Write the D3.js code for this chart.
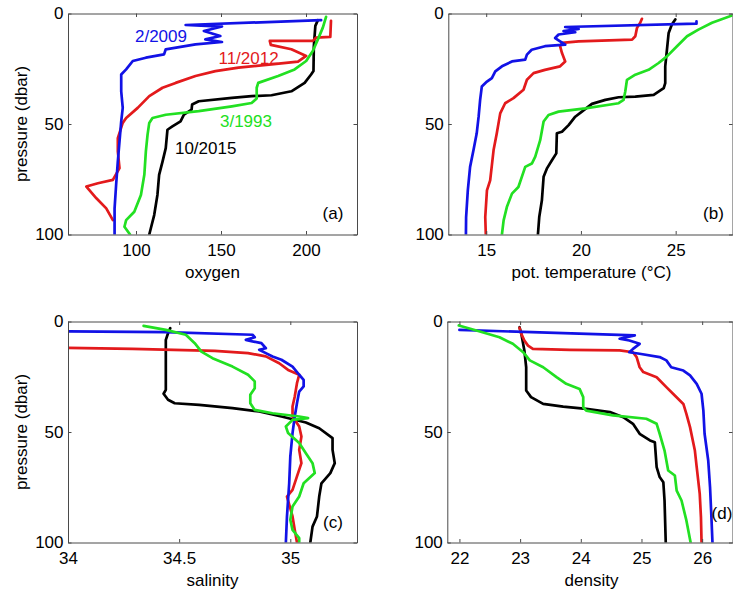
<!DOCTYPE html>
<html>
<head>
<meta charset="utf-8">
<script src="https://cdn.jsdelivr.net/npm/d3@7"></script>
<style>
  html, body { margin: 0; padding: 0; background: #ffffff; }
  svg { display: block; }
</style>
</head>
<body>
<svg id="chart" width="733" height="592"></svg>
<script>
// ---------------- DATA (value, pressure) ----------------
const seriesNames = ["2/2009", "11/2012", "3/1993", "10/2015"];
const seriesColors = ["#1212e6", "#e31a1c", "#22e022", "#000000"];
const pressureTicks = [0, 50, 100];

// (a) oxygen
const oxygen2009 = [[208.9,3.0],[129.2,5.2],[150.6,5.9],[139.9,7.9],[149.6,10.2],[140.8,11.7],[150.6,12.9],[135,14.0],[117.5,16.2],[116.5,18.5],[105.8,20],[98.1,21.5],[94.2,25.3],[91.3,27.6],[91.3,35.2],[92.2,42.7],[91.3,48.8],[90.3,57.9],[89.3,67],[88.3,77.6],[87.4,88.2],[87.4,100]];
const oxygen2012 = [[214.7,3.3],[214.3,10.6],[206,10.9],[204,12.4],[178.7,12.4],[179.3,14.2],[191.4,16.2],[200.1,19.2],[195.3,21.8],[179.7,23],[160.3,24.5],[146.7,26.1],[135,28.3],[123.3,31.4],[115.6,33.6],[107.8,37.4],[101,42.7],[94.2,47.3],[92.2,49.5],[89.3,56.4],[89.3,62.4],[90.3,70],[86.4,75.3],[77.6,76.8],[70.8,78.3],[76.7,83.6],[82.5,88.2],[86.4,93.5]];
const oxygen1993 = [[211.8,1.5],[209.9,6.4],[207,11.7],[204,17],[200.1,21.5],[193.3,25.3],[183.6,28.3],[171.9,31.4],[171,33.6],[171,38.5],[168,40.5],[156.4,42],[136.9,44.2],[117.5,45.8],[109.7,47.3],[107.8,49.5],[106.8,54.8],[105.8,62.4],[104.9,73],[102.9,82.1],[99,89.7],[94.2,93.5],[93.2,96.5],[96.5,100]];
const oxygen2015 = [[207,3.0],[205.5,5.6],[204.6,15],[204.4,26],[203,27.6],[199.2,31.4],[191.4,35.2],[179.7,37],[168,37.4],[156.4,38.2],[136.9,39.7],[133,41.2],[132.7,43.5],[128.2,45.8],[126.2,48.8],[121.4,51.1],[118.5,52.6],[117.5,60.9],[115.6,67],[113.6,73],[112.6,82.1],[110.7,91.2],[108.7,97.3],[107.8,100]];

// (b) potential temperature
const temp2009 = [[26.1,3.5],[26.1,4.6],[19.17,6.1],[19.88,7],[19.08,8],[19.7,8.5],[18.82,9.5],[18.64,11.1],[18.9,12.6],[19.17,14.1],[18.1,14.8],[17.4,16.4],[17.15,18.6],[17.06,20.9],[16.36,21.7],[15.83,23.9],[15.48,26.2],[15.3,29.2],[15.04,30.8],[14.77,33],[14.68,39.1],[14.6,46.7],[14.5,54.2],[14.33,61.8],[14.15,69.4],[14.03,80],[13.94,92.1],[13.93,100]];
const temp2012 = [[23.22,2.4],[23.13,4.2],[22.96,6.5],[22.87,10.3],[22.7,11.8],[19.88,12.6],[19,13.3],[18.9,14.8],[19,17.9],[19.17,21.7],[18.9,23.9],[18.1,25.5],[17.5,27],[17.15,30],[16.97,34.5],[16.44,38.3],[16,40.6],[15.74,45.2],[15.56,54.2],[15.39,61.8],[15.21,75.5],[15.04,80],[14.95,92.1],[14.98,100]];
const temp1993 = [[28.2,0.2],[26.92,4.2],[26.2,7.3],[25.6,10.3],[25.07,14.8],[24.54,19.4],[24.1,22.4],[23.57,25.5],[22.87,27.7],[22.43,30],[22.34,35.3],[22.25,39.1],[21.99,40.6],[20.23,42.9],[18.82,44.4],[18.29,45.9],[18.03,48.9],[17.85,57.3],[17.59,64.8],[17.41,67.9],[17.06,69.4],[16.7,78.5],[16.36,81.5],[16.09,87.6],[15.92,93.6],[15.83,100]];
const temp2015 = [[24.98,2.7],[24.8,5],[24.63,8.8],[24.54,16.4],[24.45,23.9],[24.45,31.5],[24.37,33.8],[23.84,36.8],[22.87,37.6],[21.99,37.9],[21.29,39.1],[20.58,40.9],[20.05,44.4],[19.7,46.7],[19.35,50.5],[19,53.5],[18.73,54.2],[18.7,63.3],[18.47,66.4],[18.2,70.2],[18.03,73.9],[17.94,84.5],[17.8,92.1],[17.73,100]];

// (c) salinity
const sal2009 = [[33.9,4.4],[34.44,4.8],[34.83,6],[34.84,7.1],[34.8,8.3],[34.83,9.0],[34.87,9.8],[34.89,12.1],[34.86,12.8],[34.89,14.3],[34.92,15.8],[34.96,17.3],[35.01,20.4],[35.04,24.1],[35.06,26.4],[35.06,29.4],[35.04,31.7],[35.03,37],[35.02,43],[35.01,50.5],[35.0,61.1],[34.995,73.2],[34.985,88.2],[34.98,100]];
const sal2012 = [[33.9,11.8],[34.29,12.4],[34.66,13.3],[34.81,14.3],[34.89,15.8],[34.95,18.9],[34.99,21.9],[35.04,24.1],[35.03,27.9],[35.02,33.9],[35.01,38.5],[35.01,43],[35.04,47.5],[35.05,52],[35.04,58.1],[35.05,64.1],[35.03,70.1],[35.01,76.2],[34.985,79.2],[35.01,88.2],[35.02,94.3],[35.03,100]];
const sal1993 = [[34.34,2],[34.44,3.8],[34.53,6],[34.57,9.8],[34.6,13.6],[34.65,16.6],[34.74,20.4],[34.81,24.1],[34.84,27.1],[34.84,30.2],[34.82,33.2],[34.82,37],[34.84,40],[34.92,41.5],[35.04,43],[35.08,43.7],[35.01,44.5],[34.98,47.5],[34.99,50.5],[35.04,55],[35.07,59.6],[35.1,64.1],[35.11,68.6],[35.06,73.2],[35.04,79.2],[35.01,83.7],[35.0,89.7],[35.01,94.3],[35.04,98],[35.04,100]];
const sal2015 = [[34.46,3],[34.45,5.3],[34.44,8.3],[34.44,15.8],[34.44,24.9],[34.44,30.9],[34.43,32.7],[34.45,35.4],[34.48,37],[34.59,37.7],[34.74,39.2],[34.86,40.7],[34.96,43],[35.07,45.7],[35.13,48.3],[35.19,52.8],[35.19,58.1],[35.2,64.1],[35.18,68.6],[35.14,73.2],[35.13,79.2],[35.12,88.2],[35.1,92.8],[35.09,100]];

// (d) density
const dens2009 = [[22.0,3.8],[24.89,6.3],[24.64,7.8],[24.8,8.6],[24.97,10.1],[24.86,12.4],[24.8,13.9],[24.97,14.6],[25.3,16.1],[25.41,17.6],[25.49,20.7],[25.69,22.2],[25.8,24.4],[25.91,28.2],[25.99,32.7],[26.02,40.3],[26.04,50.8],[26.1,62.9],[26.13,75],[26.15,87],[26.17,100]];
const dens2012 = [[22.99,2.9],[23.02,5.6],[23.07,8.6],[23.13,10.9],[23.21,12.4],[23.82,12.8],[24.64,13.1],[24.86,13.9],[24.92,16.1],[24.97,20.7],[25.03,22.9],[25.25,25.2],[25.41,29.7],[25.52,32.7],[25.69,37.3],[25.74,41.8],[25.8,47.8],[25.88,58.4],[25.91,65.9],[25.96,78],[25.98,88.5],[25.99,100]];
const dens1993 = [[21.99,1.8],[22.28,4.1],[22.66,7.1],[22.88,10.1],[23.05,13.9],[23.16,17.6],[23.38,20.7],[23.6,25.2],[23.76,28.2],[23.98,30.5],[24.04,34.2],[24.04,38.8],[24.09,40.3],[24.53,42.5],[25.08,44],[25.25,46.3],[25.3,50.8],[25.38,58.4],[25.44,67.4],[25.55,69.7],[25.58,76.5],[25.66,81],[25.74,90],[25.81,100]];
const dens2015 = [[22.99,2.6],[23.02,5.6],[23.07,13.1],[23.1,20.7],[23.1,31.2],[23.18,34.2],[23.38,37.3],[23.71,38.5],[24.09,39.5],[24.48,41],[24.7,43.3],[24.86,46.3],[24.97,50.8],[25.14,53.8],[25.22,54.6],[25.25,65.9],[25.3,70.4],[25.36,72.7],[25.38,81],[25.4,100]];

// Tick labels / domains
const oxygenTicks = [100, 150, 200];
const tempTicks = [15, 20, 25];
const salTicks = [34, 34.5, 35];
const densTicks = [22, 23, 24, 25, 26];

// Series label annotations in panel (a), in data units
const oxygenLabels = [
  {text: "2/2009", v: 99.4, p: 12.9, s: 0},
  {text: "11/2012", v: 148.5, p: 22.9, s: 1},
  {text: "3/1993", v: 149.4, p: 51.4, s: 2},
  {text: "10/2015", v: 122.9, p: 63.6, s: 3}
];

// ---------------- LAYOUT ----------------
const FONT = "'Liberation Sans', Arial, Helvetica, sans-serif";
const FS = 17;
const panels = [
  {id: "a", x0: 68, x1: 357, y0: 13.5, y1: 234.5, domain: [60, 230], ticks: oxygenTicks, tickFmt: d => d,
   title: "oxygen", showY: true, letter: "(a)", lx: 333, ly: 218.5,
   data: [oxygen2009, oxygen2012, oxygen1993, oxygen2015]},
  {id: "b", x0: 448.3, x1: 732.5, y0: 13.5, y1: 234.5, domain: [13, 28], ticks: tempTicks, tickFmt: d => d,
   title: "pot. temperature (\u00B0C)", titleX: 591.5, showY: true, letter: "(b)", lx: 713.5, ly: 219,
   data: [temp2009, temp2012, temp1993, temp2015]},
  {id: "c", x0: 68, x1: 357, y0: 321.5, y1: 542.5, domain: [34, 35.3], ticks: salTicks, tickFmt: d => d,
   title: "salinity", showY: true, letter: "(c)", lx: 333, ly: 528,
   data: [sal2009, sal2012, sal1993, sal2015]},
  {id: "d", x0: 447.3, x1: 732.5, y0: 321.5, y1: 542.5, domain: [21.8, 26.5], ticks: densTicks, tickFmt: d => d,
   title: "density", titleX: 591.5, showY: true, letter: "(d)", lx: 722, ly: 519,
   data: [dens2009, dens2012, dens1993, dens2015]}
];

const svg = d3.select("#chart");
const drawOrder = [3, 1, 0, 2];

panels.forEach(P => {
  const x = d3.scaleLinear().domain(P.domain).range([P.x0, P.x1]);
  const y = d3.scaleLinear().domain([0, 100]).range([P.y0, P.y1]);
  const g = svg.append("g");

  // clip
  g.append("clipPath").attr("id", "clip-" + P.id)
    .append("rect").attr("x", P.x0).attr("y", P.y0)
    .attr("width", P.x1 - P.x0).attr("height", P.y1 - P.y0);

  const line = d3.line().x(d => x(d[0])).y(d => y(d[1]));
  const lg = g.append("g").attr("clip-path", "url(#clip-" + P.id + ")");
  drawOrder.forEach(i => {
    lg.append("path").datum(P.data[i])
      .attr("d", line)
      .attr("fill", "none")
      .attr("stroke", seriesColors[i])
      .attr("stroke-width", 2.7)
      .attr("stroke-linejoin", "round")
      .attr("stroke-linecap", "round");
  });

  const tk = 3.5;
  const styleAxis = sel => {
    sel.attr("font-family", FONT).attr("font-size", FS);
    sel.selectAll("path.domain").attr("stroke", "#4a4a4a").attr("stroke-width", 1);
    sel.selectAll(".tick line").attr("stroke", "#4a4a4a").attr("stroke-width", 1);
    sel.selectAll(".tick text").attr("fill", "#000");
  };
  // bottom
  g.append("g").attr("transform", `translate(0,${P.y1})`)
    .call(d3.axisBottom(x).tickValues(P.ticks).tickFormat(P.tickFmt).tickSizeInner(-tk).tickSizeOuter(0).tickPadding(9.5))
    .call(styleAxis);
  // top
  g.append("g").attr("transform", `translate(0,${P.y0})`)
    .call(d3.axisTop(x).tickValues(P.ticks).tickFormat("").tickSizeInner(-tk).tickSizeOuter(0))
    .call(styleAxis);
  // left
  g.append("g").attr("transform", `translate(${P.x0},0)`)
    .call(d3.axisLeft(y).tickValues(pressureTicks).tickSizeInner(-tk).tickSizeOuter(0).tickPadding(4.5))
    .call(styleAxis);
  // right
  g.append("g").attr("transform", `translate(${P.x1},0)`)
    .call(d3.axisRight(y).tickValues(pressureTicks).tickFormat("").tickSizeInner(-tk).tickSizeOuter(0))
    .call(styleAxis);

  // x title
  g.append("text")
    .attr("x", P.titleX || (P.x0 + P.x1) / 2).attr("y", P.y1 + 43.5)
    .attr("text-anchor", "middle").attr("font-family", FONT).attr("font-size", FS)
    .text(P.title);

  // y title (left panels only)
  if (P.id === "a" || P.id === "c") {
    g.append("text")
      .attr("transform", `translate(27,${(P.y0 + P.y1) / 2}) rotate(-90)`)
      .attr("text-anchor", "middle").attr("font-family", FONT).attr("font-size", FS)
      .text("pressure (dbar)");
  }

  // panel letter
  g.append("text")
    .attr("x", P.lx).attr("y", P.ly)
    .attr("text-anchor", "middle").attr("font-family", FONT).attr("font-size", FS)
    .text(P.letter);

  if (P.id === "a") {
    oxygenLabels.forEach(L => {
      g.append("text")
        .attr("x", x(L.v)).attr("y", y(L.p))
        .attr("font-family", FONT).attr("font-size", FS)
        .attr("fill", seriesColors[L.s])
        .text(L.text);
    });
  }
});
</script>
</body>
</html>
